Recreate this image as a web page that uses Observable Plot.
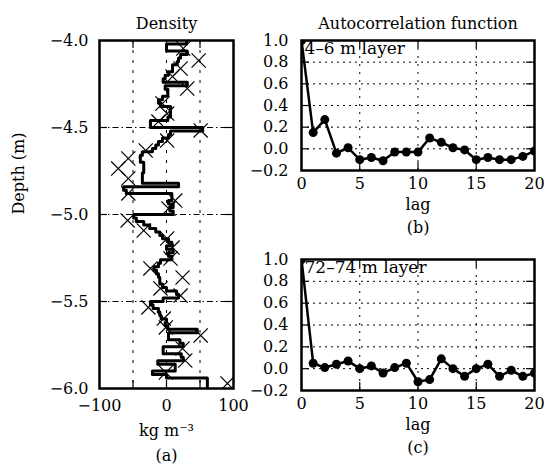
<!DOCTYPE html>
<html><head><meta charset="utf-8">
<script src="https://cdn.jsdelivr.net/npm/d3@7"></script>
<script src="https://cdn.jsdelivr.net/npm/@observablehq/plot@0.6"></script>
<style>
body{margin:0;background:#fff;}
#chart{position:relative;width:546px;height:471px;background:#fff;overflow:hidden;}
#chart svg{position:absolute;overflow:visible;background:transparent;}
</style></head><body><div id="chart"></div>
<script>
// ---------- data ----------
// density step profile: 2 cm bins from -4.00 m downward (kg m^-3)
const binTop = -4.0;
const binSize = 0.02;
const densityValues = [30, 0, 0, 31, 21, 18, 16, 9, 9, 3,
 -2, -5, 31, -2, 2, 2, -6, -12, -9, 6,
 6, 6, 2, -24, -24, 54, 6, 3, -6, -12,
 -16, -21, -36, -39, -39, -34, -34, -34, -36, -36,
 -36, 18, -64, -60, 8, 8, 3, 10, 5, 10,
 -49, -45, -34, -25, -16, -10, -6, 3, 8, 0,
 10, 3, 8, -9, -12, -19, -15, -12, -10, -10,
 -6, 0, 15, 18, -5, -24, -20, -12, -10, -8,
 0, -2, 2, 46, 3, 3, 20, 25, -5, -5,
 22, 25, -13, 13, 13, -21, 0, 61, 61, 61];
// X markers
const markerDepths = [-4.046, -4.115, -4.161, -4.207, -4.276, -4.362, -4.420, -4.466, -4.517, -4.575,
 -4.632, -4.678, -4.736, -4.793, -4.879, -4.920, -4.966, -5.034, -5.092, -5.138,
 -5.190, -5.253, -5.310, -5.362, -5.425, -5.466, -5.534, -5.598, -5.649, -5.695,
 -5.770, -5.839, -5.908, -5.971];
const markerValues = [25, 48, 21, 9, 31, -6, 1, -12, 51, 1,
 -31, -57, -72, -57, -57, 13, 3, -58, -34, 1,
 9, 6, -24, 24, -9, 21, -27, -4, -1, 51,
 24, 28, -1, 91];
const densityTickLabels = [-100, 0, 100];
const densityMinorTicks = [-50, 0, 50];
const depthTickLabels = [-4.0, -4.5, -5.0, -5.5, -6.0];
const depthInnerTicks = [-4.5, -5.0, -5.5];

// autocorrelation
const lags = [0,1,2,3,4,5,6,7,8,9,10,11,12,13,14,15,16,17,18,19,20];
const acfUpper = [1.0, 0.15, 0.27, -0.04, 0.01, -0.10, -0.08, -0.11, -0.03, -0.03, -0.03, 0.10, 0.06, 0.01, -0.01, -0.10, -0.08, -0.10, -0.10, -0.07, -0.02];
const acfLower = [1.0, 0.05, 0.01, 0.04, 0.07, 0.0, 0.025, -0.04, 0.01, 0.05, -0.12, -0.10, 0.09, 0.0, -0.07, 0.0, 0.04, -0.07, -0.015, -0.07, -0.04];
const lagTickLabels = [0, 5, 10, 15, 20];
const lagInnerTicks = [5, 10, 15];
const acfTickLabels = [1.0, 0.8, 0.6, 0.4, 0.2, 0.0, -0.2];
const acfInnerTicks = [0.8, 0.6, 0.4, 0.2, 0.0];

// ---------- helpers ----------
const FONT = "DejaVu Serif";
const minus = v => (v < 0 ? "\u2212" : "") + Math.abs(v);
const minus1 = v => (v < 0 ? "\u2212" : "") + Math.abs(v).toFixed(1);
const chart = document.getElementById("chart");
function place(svg, left, top) {
  svg.style.left = left + "px"; svg.style.top = top + "px";
  chart.appendChild(svg);
}

// ---------- left panel ----------
const stepPoints = densityValues.flatMap((v, i) => [
  {v, d: binTop - binSize * i},
  {v, d: binTop - binSize * (i + 1)}
]);
const markers = markerDepths.map((d, i) => ({d, v: markerValues[i]}));

const LF = {left: 99, right: 233, top: 40, bottom: 388};
const lw = 250, lh = 471;
const lfh = LF.bottom - LF.top, lfw = LF.right - LF.left;
const leftPlot = Plot.plot({
  width: lw, height: lh,
  marginLeft: LF.left, marginRight: lw - LF.right, marginTop: LF.top, marginBottom: lh - LF.bottom,
  style: {fontFamily: FONT, fontSize: "16px", background: "transparent", color: "black"},
  x: {domain: [-100, 100]},
  y: {domain: [-6, -4]},
  marks: [
    Plot.ruleX(densityMinorTicks, {x: d => d, stroke: "black", strokeWidth: 1, strokeDasharray: "3,7"}),
    Plot.ruleY(depthInnerTicks, {y: d => d, stroke: "black", strokeWidth: 1, strokeDasharray: "6,3,1.5,3"}),
    Plot.tickX(densityMinorTicks, {x: d => d, insetTop: lfh - 8, strokeWidth: 1.2}),
    Plot.tickX(densityMinorTicks, {x: d => d, insetBottom: lfh - 8, strokeWidth: 1.2}),
    Plot.tickY(depthInnerTicks, {y: d => d, insetRight: lfw - 8, strokeWidth: 1.2}),
    Plot.tickY(depthInnerTicks, {y: d => d, insetLeft: lfw - 8, strokeWidth: 1.2}),
    Plot.line(stepPoints, {x: "v", y: "d", stroke: "black", strokeWidth: 3, clip: true}),
    Plot.dot(markers, {x: "v", y: "d", symbol: "times", r: 6.5, stroke: "black", strokeWidth: 1.2, clip: true}),
    Plot.axisX(densityTickLabels, {tickSize: 0, tickPadding: 11, label: null, tickFormat: minus}),
    Plot.axisY(depthTickLabels, {tickSize: 0, tickPadding: 11, label: null, tickFormat: minus1}),
    Plot.frame({stroke: "black", strokeWidth: 2.5}),
    Plot.text(["Density"], {frameAnchor: "top", dy: -23}),
    Plot.text(["kg m\u207B\u00B3"], {frameAnchor: "bottom", dy: 47}),
    Plot.text(["(a)"], {frameAnchor: "bottom", dy: 72}),
    Plot.text(["Depth (m)"], {frameAnchor: "left", dx: -81, rotate: -90})
  ]
});
place(leftPlot, 0, 0);

// ---------- right panels ----------
function acfPanel(values, label, letter, svgTop, svgH, frameTop, frameBottom, title) {
  const RF = {left: 301, right: 534};
  const sl = 250, sw = 296;
  const fh = frameBottom - frameTop, fw = RF.right - RF.left;
  const data = lags.map((l, i) => ({lag: l, r: values[i]}));
  const marks = [
    Plot.ruleX(lagInnerTicks, {x: d => d, stroke: "black", strokeWidth: 1, strokeDasharray: "2,6"}),
    Plot.ruleY(acfInnerTicks, {y: d => d, stroke: "black", strokeWidth: 1, strokeDasharray: "2,4"}),
    Plot.tickX(lagInnerTicks, {x: d => d, insetTop: fh - 8, strokeWidth: 1.2}),
    Plot.tickX(lagInnerTicks, {x: d => d, insetBottom: fh - 8, strokeWidth: 1.2}),
    Plot.tickY(acfInnerTicks, {y: d => d, insetRight: fw - 8, strokeWidth: 1.2}),
    Plot.tickY(acfInnerTicks, {y: d => d, insetLeft: fw - 8, strokeWidth: 1.2}),
    Plot.text([label], {frameAnchor: "top-left", dx: 3, dy: 1, lineAnchor: "top", textAnchor: "start", fontSize: 17}),
    Plot.line(data, {x: "lag", y: "r", stroke: "black", strokeWidth: 2.5, clip: true}),
    Plot.dot(data, {x: "lag", y: "r", r: 4.5, fill: "black", stroke: "none", clip: true}),
    Plot.axisX(lagTickLabels, {tickSize: 0, tickPadding: 7, label: null}),
    Plot.axisY(acfTickLabels, {tickSize: 0, tickPadding: 13, label: null, tickFormat: minus1}),
    Plot.frame({stroke: "black", strokeWidth: 2.5}),
    Plot.text(["lag"], {frameAnchor: "bottom", dy: 28, lineAnchor: "top"}),
    Plot.text([letter], {frameAnchor: "bottom", dy: 62})
  ];
  if (title) marks.push(Plot.text([title], {frameAnchor: "top", dy: -23}));
  const p = Plot.plot({
    width: sw, height: svgH,
    marginLeft: RF.left - sl, marginRight: sl + sw - RF.right,
    marginTop: frameTop - svgTop, marginBottom: svgTop + svgH - frameBottom,
    style: {fontFamily: FONT, fontSize: "16px", background: "transparent", color: "black"},
    x: {domain: [0, 20]},
    y: {domain: [-0.2, 1.0]},
    marks
  });
  place(p, sl, svgTop);
}
acfPanel(acfUpper, "4\u20136 m layer", "(b)", 0, 245, 40, 170, "Autocorrelation function");
acfPanel(acfLower, "72\u201374 m layer", "(c)", 245, 226, 259, 390, null);
</script></body></html>
